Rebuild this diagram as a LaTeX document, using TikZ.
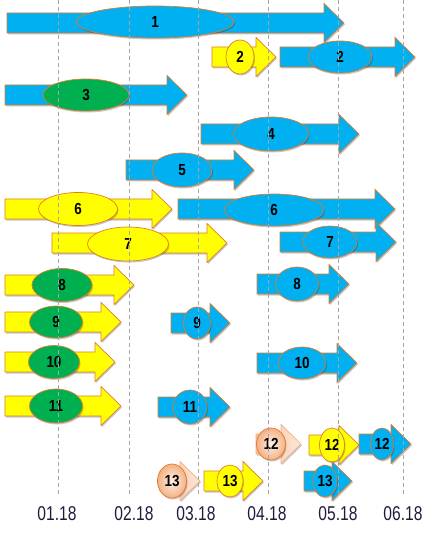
\documentclass[tikz,border=0pt]{standalone}
\usepackage{fontspec}
\setmainfont{Liberation Sans}
\usetikzlibrary{shapes.geometric,shadows}
\definecolor{cblue}{HTML}{00B0F0}
\definecolor{cyellow}{HTML}{FFFF00}
\definecolor{cgreen}{HTML}{00B050}
\definecolor{cedge}{HTML}{E07B2E}
\definecolor{csalmon}{HTML}{F4B183}
\definecolor{csalmonlight}{HTML}{FDE6D8}
\definecolor{cgrid}{HTML}{A6A6A6}
\definecolor{clabel}{HTML}{1E1E3C}
\newcommand\nm[1]{\scalebox{0.84}[1]{#1}}
\newcommand\ax[1]{\scalebox{0.78}[1]{#1}}
\newcommand\barrow[4]{%
  \draw[arrowline,#4] ({#1},{#3-10}) -- ({#2-20},{#3-10}) -- ({#2-20},{#3-19.5}) -- ({#2},{#3}) -- ({#2-20},{#3+19.5}) -- ({#2-20},{#3+10}) -- ({#1},{#3+10}) -- cycle;}
\tikzset{
  shd/.style={drop shadow={shadow xshift=1pt,shadow yshift=-1.5pt,opacity=0.22,fill=black}},
  arrowline/.style={draw=cedge,line width=0.7pt,line join=miter,shd},
  bluearr/.style={fill=cblue},
  yelarr/.style={fill=cyellow},
  salarr/.style={draw=csalmon,left color=csalmon!80,right color=csalmonlight},
  ell/.style={ellipse,draw=cedge,line width=0.7pt,inner sep=0pt,shd,
    font=\fontsize{16}{16}\selectfont\bfseries,text=black},
  eblue/.style={ell,fill=cblue},
  eyel/.style={ell,fill=cyellow},
  egreen/.style={ell,fill=cgreen},
  esal/.style={ell,inner color=csalmonlight!60!white,outer color=csalmon},
  gridline/.style={draw=cgrid,line width=0.8pt,dash pattern=on 4pt off 3pt},
  axlabel/.style={font=\fontsize{20}{20}\selectfont,text=clabel,inner sep=0pt}
}
\newcommand\sz[2]{minimum width=#1pt,minimum height=#2pt}
\begin{document}
\begin{tikzpicture}[x=1pt,y=-1pt]
\useasboundingbox (0,0) rectangle (436,537);
% row 1
\barrow{7}{344}{23}{bluearr}
\node[eblue,minimum width=158pt,minimum height=32pt] (e1) at (155,22) {\nm{1}};
% row 2
\barrow{212}{276}{57}{yelarr}
\node[eyel,minimum width=28pt,minimum height=34pt] (y2) at (240,57) {\nm{2}};
\barrow{280}{415}{57}{bluearr}
\node[eblue,minimum width=64pt,minimum height=32pt] (b2) at (340,57) {\nm{2}};
% row 3
\barrow{5}{187}{95}{bluearr}
\node[egreen,minimum width=86pt,minimum height=32pt] (g3) at (86,95) {\nm{3}};
% row 4
\barrow{201}{359}{134}{bluearr}
\node[eblue,minimum width=75pt,minimum height=34pt] (b4) at (271,134) {\nm{4}};
% row 5
\barrow{126}{254}{170}{bluearr}
\node[eblue,minimum width=60pt,minimum height=34pt] (b5) at (182,170) {\nm{5}};
% row 6
\barrow{5}{172}{209}{yelarr}
\node[eyel,minimum width=79pt,minimum height=33pt] (y6) at (78,209) {\nm{6}};
\barrow{178}{395}{209}{bluearr}
\node[eblue,minimum width=100pt,minimum height=32pt] (b6) at (274,210) {\nm{6}};
% row 7
\barrow{52}{227}{243}{yelarr}
\node[eyel,minimum width=81pt,minimum height=34pt] (y7) at (128,244) {\nm{7}};
\barrow{280}{396}{242}{bluearr}
\node[eblue,minimum width=54pt,minimum height=32pt] (b7) at (330,242) {\nm{7}};
% row 8
\barrow{5}{134}{285}{yelarr}
\node[egreen,minimum width=60pt,minimum height=33pt] (g8) at (62,285) {\nm{8}};
\barrow{257}{349}{284}{bluearr}
\node[eblue,minimum width=43pt,minimum height=34pt] (b8) at (297,284) {\nm{8}};
% row 9
\barrow{5}{121}{322}{yelarr}
\node[egreen,minimum width=53pt,minimum height=32pt] (g9) at (56,322) {\nm{9}};
\barrow{171}{230}{323}{bluearr}
\node[eblue,minimum width=27pt,minimum height=32pt] (b9) at (197,323) {\nm{9}};
% row 10
\barrow{5}{115}{362}{yelarr}
\node[egreen,minimum width=51pt,minimum height=33pt] (g10) at (54,362) {\nm{10}};
\barrow{257}{357}{363}{bluearr}
\node[eblue,minimum width=48pt,minimum height=32pt] (b10) at (302,363) {\nm{10}};
% row 11
\barrow{5}{121}{406}{yelarr}
\node[egreen,minimum width=53pt,minimum height=34pt] (g11) at (56,406) {\nm{11}};
\barrow{158}{230}{407}{bluearr}
\node[eblue,minimum width=34pt,minimum height=34pt] (b11) at (190,407) {\nm{11}};
% row 12
\barrow{256}{301}{444}{salarr}
\node[esal,minimum width=29pt,minimum height=32pt] (s12) at (271,444) {\nm{12}};
\barrow{309}{359}{445}{yelarr}
\node[eyel,minimum width=25pt,minimum height=34pt] (y12) at (332,445) {\nm{12}};
\barrow{359}{411}{444}{bluearr}
\node[eblue,minimum width=23pt,minimum height=32pt] (b12) at (382,444) {\nm{12}};
% row 13
\barrow{160}{200}{481}{salarr}
\node[esal,minimum width=29pt,minimum height=34pt] (s13) at (172,481) {\nm{13}};
\barrow{204}{263}{481}{yelarr}
\node[eyel,minimum width=26pt,minimum height=32pt] (y13) at (230,481) {\nm{13}};
\barrow{304}{352}{481}{bluearr}
\node[eblue,minimum width=24pt,minimum height=32pt] (b13) at (325,481) {\nm{13}};
% grid and axis labels
\foreach \gx/\lx/\t [count=\i] in {58/57/01.18,129/134/02.18,198/196/03.18,268/267/04.18,338/338/05.18,403/403/06.18}{
  \coordinate (gt\i) at (\gx,0);
  \coordinate (gb\i) at (\gx,497);
  \draw[gridline] (gt\i) -- (gb\i);
  \node[axlabel] (lab\i) at (\lx,513.5) {\ax{\t}};
}
\end{tikzpicture}
\end{document}
